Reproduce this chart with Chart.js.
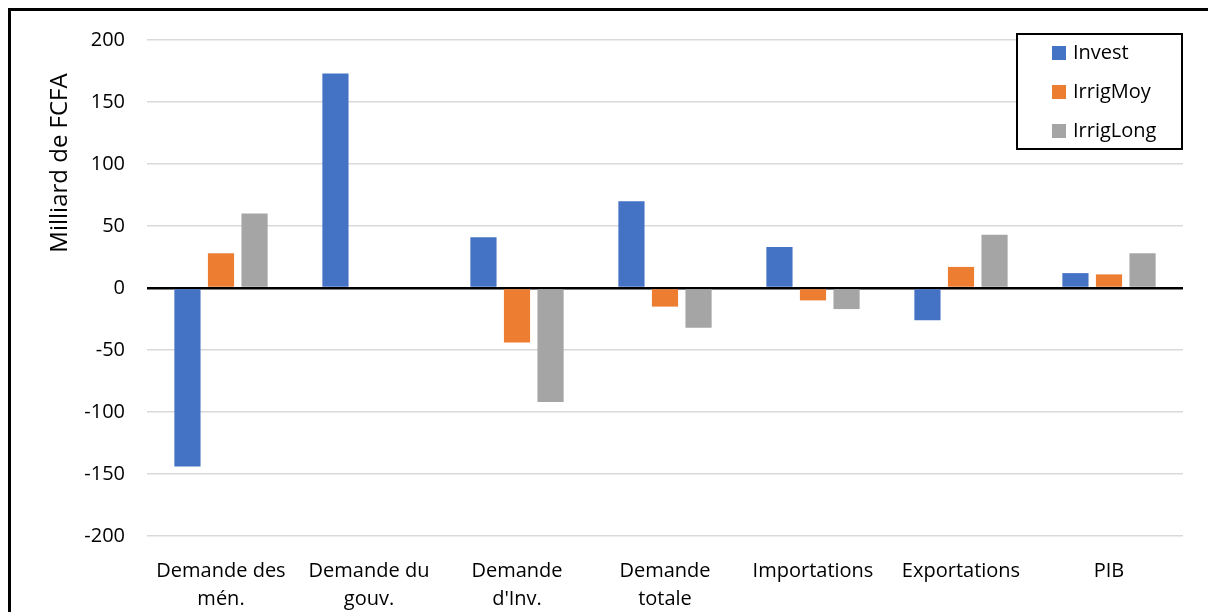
<!DOCTYPE html>
<html>
<head>
<meta charset="utf-8">
<script src="https://cdn.jsdelivr.net/npm/chart.js@4/dist/chart.umd.min.js"></script>
<style>
  html, body { margin: 0; padding: 0; background: #fff; overflow: hidden; }
  #frame {
    position: absolute; left: 8px; top: 8px; width: 1300px; height: 700px;
    border-left: 3px solid #000; border-top: 3px solid #000;
    pointer-events: none;
  }
  #wrap { position: absolute; left: 0; top: 0; width: 1208px; height: 612px; }
</style>
</head>
<body>
<div id="wrap"><canvas id="chart" width="1208" height="612"></canvas></div>
<div id="frame"></div>
<script>
const categories = [
    ['Demande des', 'mén.'],
    ['Demande du', 'gouv.'],
    ['Demande', "d'Inv."],
    ['Demande', 'totale'],
    'Importations',
    'Exportations',
    'PIB'
];
const seriesNames = ['Invest', 'IrrigMoy', 'IrrigLong'];
const investValues = [-144, 173, 41, 70, 33, -26, 12];
const irrigMoyValues = [28, 0, -44, -15, -10, 17, 11];
const irrigLongValues = [60, 0, -92, -32, -17, 43, 28];
const yTicks = { min: -200, max: 200, step: 50 };
const axisTitle = 'Milliard de FCFA';

const colors = ['#4472C4', '#ED7D31', '#A5A5A5'];
const FONT = "'Open Sans', sans-serif";

// legend + y title drawn by hand to match the original layout
const extras = {
    id: 'extras',
    afterDraw(chart) {
        const ctx = chart.ctx;
        const area = chart.chartArea;
        ctx.save();

        // y axis title
        ctx.translate(60, 163);
        ctx.rotate(-Math.PI / 2);
        ctx.fillStyle = '#000';
        ctx.font = '24px ' + FONT;
        ctx.textAlign = 'center';
        ctx.textBaseline = 'middle';
        ctx.fillText(axisTitle, 0, 0);
        ctx.restore();

        // legend box
        ctx.save();
        const boxRight = area.right - 1;
        const boxLeft = boxRight - 165;
        const boxTop = area.top - 6;
        ctx.lineWidth = 2;
        ctx.strokeStyle = '#000';
        ctx.fillStyle = '#fff';
        ctx.fillRect(boxLeft, boxTop, 165, 115);
        ctx.strokeRect(boxLeft, boxTop, 165, 115);

        ctx.font = '20px ' + FONT;
        ctx.textBaseline = 'middle';
        chart.data.datasets.forEach((ds, i) => {
            const cy = boxTop + 19 + i * 39;
            ctx.fillStyle = ds.backgroundColor;
            ctx.fillRect(boxLeft + 35, cy - 7, 14, 14);
            ctx.fillStyle = '#000';
            ctx.fillText(ds.label, boxLeft + 56, cy);
        });
        ctx.restore();
    }
};

const ctx = document.getElementById('chart').getContext('2d');
new Chart(ctx, {
    type: 'bar',
    data: {
        labels: categories,
        datasets: [
            { label: seriesNames[0], data: investValues, backgroundColor: colors[0] },
            { label: seriesNames[1], data: irrigMoyValues, backgroundColor: colors[1] },
            { label: seriesNames[2], data: irrigLongValues, backgroundColor: colors[2] }
        ]
    },
    options: {
        responsive: false,
        animation: false,
        devicePixelRatio: 1,
        categoryPercentage: 0.68,
        barPercentage: 0.78,
        layout: { padding: { left: 0, right: 25, top: 40, bottom: 0 } },
        plugins: {
            legend: { display: false },
            tooltip: { enabled: false }
        },
        scales: {
            x: {
                grid: { display: false },
                border: { display: false },
                ticks: {
                    color: '#000',
                    font: { family: FONT, size: 20, lineHeight: 1.4 },
                    padding: 13,
                    maxRotation: 0,
                    autoSkip: false
                },
                afterFit(scale) { scale.height = 76; }
            },
            y: {
                min: yTicks.min,
                max: yTicks.max,
                border: { display: false },
                grid: {
                    drawTicks: false,
                    color: c => c.tick && c.tick.value === 0 ? '#000' : '#d9d9d9',
                    lineWidth: c => c.tick && c.tick.value === 0 ? 2.5 : 1.5
                },
                ticks: {
                    stepSize: yTicks.step,
                    color: '#000',
                    padding: 22,
                    font: { family: FONT, size: 20 }
                },
                afterFit(scale) { scale.width = 147; }
            }
        }
    },
    plugins: [extras]
});
</script>
</body>
</html>
